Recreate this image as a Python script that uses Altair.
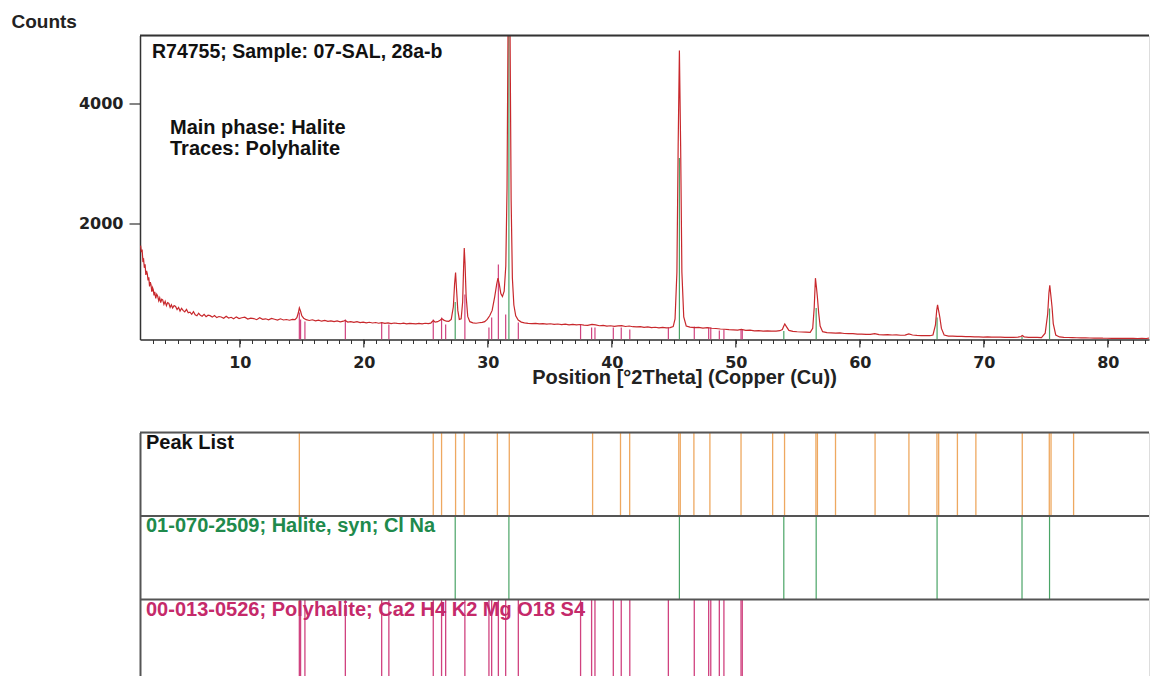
import altair as alt
import pandas as pd

# ---------------- data ----------------
# measured pattern, split into angular segments
theta_a = [2.00, 2.06, 2.12, 2.18, 2.24, 2.30, 2.36, 2.42, 2.48, 2.54, 2.60, 2.66, 2.72, 2.78, 2.84,
           2.90, 2.96, 3.02, 3.08, 3.14, 3.22, 3.30, 3.38, 3.46, 3.54, 3.62, 3.70, 3.78, 3.88, 3.98,
           4.08, 4.18, 4.28, 4.38, 4.48, 4.58, 4.70, 4.82, 4.94, 5.06, 5.18, 5.30, 5.42, 5.56, 5.70,
           5.84, 5.98, 6.12, 6.26, 6.40, 6.54, 6.68, 6.82, 6.96, 7.12, 7.28, 7.44, 7.60, 7.78, 7.96,
           8.14, 8.32, 8.50, 8.70, 8.90, 9.10, 9.30, 9.50, 9.72, 9.94, 10.16, 10.40, 10.64, 10.88,
           11.12, 11.36, 11.60, 11.84, 12.08, 12.32, 12.56, 12.80, 13.04, 13.28, 13.52, 13.76, 14.00,
           14.24]
counts_a = [1640, 1530, 1575, 1390, 1410, 1270, 1330, 1150, 1220, 1170, 1060, 1110, 960, 1030, 985,
            870, 940, 905, 810, 870, 760, 830, 795, 720, 770, 690, 745, 735, 660, 710,
            640, 690, 675, 610, 655, 600, 640, 625, 575, 610, 550, 595, 560, 535, 575,
            520, 530, 495, 540, 485, 470, 512, 478, 462, 495, 455, 480, 472, 448, 475,
            440, 458, 450, 428, 462, 432, 445, 420, 452, 425, 438, 446, 415, 432,
            424, 405, 438, 410, 420, 402, 425, 412, 398, 420, 400, 408, 396,
            410]

theta_b = [14.45, 14.60, 14.72, 14.80, 14.90, 15.00, 15.15, 15.35, 15.60, 15.85, 16.10, 16.35,
           16.60, 16.85, 17.10, 17.35, 17.60, 17.85, 18.10, 18.35, 18.50, 18.70, 18.95, 19.20,
           19.45, 19.70, 19.95, 20.20, 20.45, 20.70, 20.95, 21.20, 21.45, 21.70, 21.95, 22.20,
           22.45, 22.70, 22.95, 23.20, 23.45, 23.70, 23.95, 24.20, 24.45, 24.70, 24.95, 25.20]
counts_b = [405, 440, 520, 600, 545, 470, 430, 405, 392, 404, 386, 398,
            380, 392, 378, 386, 372, 384, 370, 380, 392, 366, 374, 360,
            371, 356, 365, 352, 362, 350, 358, 346, 357, 344, 352, 340,
            350, 343, 338, 348, 336, 345, 340, 334, 344, 336, 346, 340]

theta_c = [25.40, 25.50, 25.62, 25.75, 25.95, 26.15, 26.30, 26.45, 26.65, 26.85, 27.05, 27.22,
           27.32, 27.40, 27.48, 27.58, 27.70, 27.85, 27.97, 28.05, 28.10, 28.16, 28.25, 28.38,
           28.55, 28.80, 29.05, 29.30, 29.55, 29.75, 29.95, 30.15, 30.35, 30.55, 30.72, 30.82,
           30.92, 31.05, 31.18, 31.32, 31.45, 31.55, 31.64, 31.78, 31.88, 31.98, 32.10, 32.25,
           32.45, 32.70, 32.95]
counts_c = [348, 370, 392, 365, 372, 395, 420, 398, 380, 378, 410, 620,
            1000, 1190, 900, 560, 410, 420, 700, 1300, 1600, 1350, 800, 460,
            372, 352, 346, 354, 360, 372, 410, 470, 560, 780, 1000, 1098,
            1000, 840, 790, 880, 1300, 2600, 5600, 5600, 2400, 1100, 650, 470,
            400, 365, 352]

theta_d = [33.25, 33.55, 33.85, 34.15, 34.45, 34.75, 35.05, 35.35, 35.65, 35.95, 36.25, 36.55,
           36.85, 37.15, 37.45, 37.75, 38.05, 38.40, 38.70, 39.00, 39.30, 39.60, 39.90, 40.20,
           40.50, 40.80, 41.10, 41.40, 41.70, 42.00, 42.30, 42.60, 42.90, 43.20, 43.50, 43.80,
           44.10, 44.40, 44.70, 44.95, 45.10, 45.25, 45.35, 45.45, 45.55, 45.65, 45.80, 46.00]
counts_d = [344, 338, 345, 334, 340, 330, 337, 328, 333, 324, 330, 320,
            327, 318, 325, 316, 312, 328, 318, 304, 310, 298, 304, 294,
            302, 305, 292, 300, 288, 284, 290, 278, 284, 274, 279, 270,
            276, 268, 274, 290, 420, 1200, 3300, 4890, 3300, 1200, 450, 300]

theta_e = [46.30, 46.65, 47.00, 47.35, 47.70, 48.05, 48.40, 48.75, 49.10, 49.45,
           49.80, 50.15, 50.45, 50.80, 51.15, 51.50, 51.85, 52.20, 52.55, 52.90,
           53.25, 53.55, 53.75, 53.87, 53.95, 54.08, 54.28, 54.60, 54.95, 55.30,
           55.65, 56.00, 56.20, 56.32, 56.42, 56.50, 56.58, 56.68, 56.80, 57.00,
           57.35, 57.70, 58.05, 58.40, 58.75, 59.10, 59.45, 59.80, 60.15, 60.50,
           60.85, 61.20, 61.55, 61.90, 62.25, 62.60, 62.95, 63.30, 63.65, 63.95,
           64.25, 64.60, 64.95, 65.30, 65.65, 65.90, 66.10, 66.20, 66.27, 66.35,
           66.45, 66.58, 66.80, 67.15, 67.50, 67.85, 68.20, 68.55, 68.90, 69.25,
           69.60, 69.95, 70.30, 70.65, 71.00, 71.35, 71.70, 72.05, 72.40, 72.75,
           73.00, 73.10, 73.25, 73.60, 73.95, 74.30, 74.65, 74.95, 75.15, 75.25,
           75.32, 75.40, 75.50, 75.60, 75.80, 76.10, 76.45, 76.80, 77.15, 77.50,
           77.85, 78.20, 78.55, 78.90, 79.25, 79.60, 79.95, 80.30, 80.65, 81.00,
           81.35, 81.70, 82.05, 82.40, 82.75, 83.10, 83.40, 83.75, 83.90, 83.98,
           84.06, 84.14, 84.20]
counts_e = [282, 272, 278, 266, 272, 262, 258, 250, 246, 240,
            236, 232, 242, 226, 230, 220, 224, 216, 220, 213,
            216, 222, 240, 300, 333, 290, 226, 210, 204, 200,
            198, 194, 260, 600, 1097, 950, 780, 520, 300, 205,
            190, 186, 182, 184, 175, 172, 174, 166, 164, 160,
            162, 172, 156, 152, 155, 150, 152, 146, 148, 168,
            150, 144, 140, 142, 138, 150, 320, 560, 652, 560,
            450, 260, 150, 132, 130, 126, 127, 122, 124, 120,
            118, 116, 120, 114, 113, 116, 110, 112, 110, 114,
            125, 142, 120, 112, 110, 112, 108, 180, 500, 850,
            978, 820, 620, 340, 150, 118, 112, 108, 106, 104,
            102, 103, 100, 99, 100, 97, 96, 95, 96, 94,
            95, 93, 94, 92, 93, 92, 100, 160, 420, 580,
            520, 470, 430]

# Halite (01-070-2509) reference lines: positions and stick heights in counts
halite_pos = [27.37, 31.70, 45.45, 53.87, 56.48, 66.23, 73.08, 75.30, 84.00]
halite_counts = [700, 5600, 3100, 215, 600, 440, 120, 590, 455]

# Polyhalite (00-013-0526) reference lines
poly_pos = [14.80, 14.90, 15.25, 18.51, 21.44, 22.02, 25.60, 26.27, 26.60, 28.15,
            30.09, 30.31, 30.85, 31.44, 32.46, 37.48, 38.37, 38.64, 40.12, 40.76,
            41.45, 44.56, 46.65, 47.81, 47.98, 48.67, 49.04, 50.42, 50.52]
poly_counts = [525, 408, 375, 408, 358, 325, 408, 442, 325, 825,
               275, 442, 1325, 492, 358, 325, 275, 275, 275, 275,
               242, 275, 292, 275, 275, 225, 242, 242, 242]

# Peak list positions
peak_pos = [14.80, 25.60, 26.27, 27.40, 28.10, 30.77, 31.73, 38.45, 40.70, 41.44,
            45.40, 45.52, 46.62, 47.91, 50.42, 52.97, 53.93, 56.46, 56.58, 58.04,
            61.23, 63.96, 66.22, 66.36, 67.87, 69.36, 73.10, 75.28, 75.42, 77.24, 84.09]

minor_ticks = [3, 4, 5, 6, 7, 8, 9, 10, 11, 12, 13, 14, 15, 16, 17, 18, 19, 20, 21, 22, 23,
               24, 25, 26, 27, 28, 29, 30, 31, 32, 33, 34, 35, 36, 37, 38, 39, 40, 41, 42, 43,
               44, 45, 46, 47, 48, 49, 50, 51, 52, 53, 54, 55, 56, 57, 58, 59, 60, 61, 62, 63,
               64, 65, 66, 67, 68, 69, 70, 71, 72, 73, 74, 75, 76, 77, 78, 79, 80, 81, 82, 83]
major_ticks = [10, 20, 30, 40, 50, 60, 70, 80]
y_ticks = [2000, 4000]

sample_label = "R74755; Sample: 07-SAL, 28a-b"
phase_label_1 = "Main phase: Halite"
phase_label_2 = "Traces: Polyhalite"
panel_labels = ["Peak List", "01-070-2509; Halite, syn; Cl Na",
                "00-013-0526; Polyhalite; Ca2 H4 K2 Mg O18 S4"]

# ---------------- styling ----------------
W = 1009
H1 = 304
H2 = 244
PANEL = 83.5
PX_PER_DEG = 12.4
X0 = 1.95
FONT = "Liberation Sans"
TICKFONT = "DejaVu Sans"
RED = "#c8282c"
GREEN_LINE = "#4aa466"
MAG_LINE = "#d0427f"
ORANGE = "#eea860"
GREEN_TXT = "#208a4c"
MAG_TXT = "#c52a6a"

xs = alt.Scale(domain=[X0, X0 + W / PX_PER_DEG], nice=False, zero=False)
ys = alt.Scale(domain=[75, 5140], nice=False, zero=False)

curve_df = pd.DataFrame({"two_theta": theta_a + theta_b + theta_c + theta_d + theta_e,
                         "counts": counts_a + counts_b + counts_c + counts_d + counts_e})
hal_df = pd.DataFrame({"two_theta": halite_pos, "counts": halite_counts,
                       "base": [75] * len(halite_pos)})
poly_df = pd.DataFrame({"two_theta": poly_pos, "counts": poly_counts,
                        "base": [75] * len(poly_pos)})
major_df = pd.DataFrame({"two_theta": major_ticks})
one_df = pd.DataFrame({"k": [0]})

x_axis = alt.Axis(
    values=minor_ticks,
    labelExpr="datum.value % 10 === 0 ? datum.label : ''",
    tickSize=4, tickColor="#333", tickWidth=1, domainColor="#333", domainWidth=1.5,
    labelFont=TICKFONT, labelFontWeight="bold", labelFontSize=16, labelColor="#222",
    labelPadding=11, labelOverlap=False, grid=False,
    title="Position [°2Theta] (Copper (Cu))", titleFont=FONT, titleFontWeight="bold",
    titleFontSize=20, titleColor="#222", titleX=544, titleY=44, titleAlign="center",
    titleBaseline="alphabetic",
)
y_axis = alt.Axis(
    values=y_ticks, format="d", tickSize=11, tickColor="#333", tickWidth=1.2,
    domainColor="#333", domainWidth=1.5,
    labelFont=TICKFONT, labelFontWeight="bold", labelFontSize=16, labelColor="#222",
    labelPadding=6, grid=False,
    title="Counts", titleFont=FONT, titleFontWeight="bold", titleFontSize=19,
    titleColor="#222", titleAngle=0, titleX=-129, titleY=-8, titleAlign="left",
    titleBaseline="alphabetic",
)

X = alt.X("two_theta:Q", scale=xs, axis=x_axis)
Y = alt.Y("counts:Q", scale=ys, axis=y_axis)

poly_sticks = alt.Chart(poly_df).mark_rule(color=MAG_LINE, strokeWidth=1.2, clip=True).encode(
    x=X, y=Y, y2="base:Q")
hal_sticks = alt.Chart(hal_df).mark_rule(color=GREEN_LINE, strokeWidth=1.2, clip=True).encode(
    x=X, y=Y, y2="base:Q")
curve = alt.Chart(curve_df).mark_line(color=RED, strokeWidth=1.2, clip=True).encode(x=X, y=Y)
major_tick_marks = alt.Chart(major_df).mark_rule(color="#333", strokeWidth=1.2).encode(
    x=X, y=alt.value(H1), y2=alt.value(H1 + 8))
top_border = alt.Chart(one_df).mark_rule(color="#333", strokeWidth=2).encode(
    x=alt.value(0), x2=alt.value(W), y=alt.value(0))
sample_txt = alt.Chart(one_df).mark_text(
    align="left", baseline="alphabetic", font=FONT, fontWeight="bold", fontSize=19.5,
    color="#111", text=sample_label
).encode(x=alt.value(12), y=alt.value(22))
phase_txt1 = alt.Chart(one_df).mark_text(
    align="left", baseline="alphabetic", font=FONT, fontWeight="bold", fontSize=20,
    color="#111", text=phase_label_1
).encode(x=alt.value(30), y=alt.value(98))
phase_txt2 = alt.Chart(one_df).mark_text(
    align="left", baseline="alphabetic", font=FONT, fontWeight="bold", fontSize=20,
    color="#111", text=phase_label_2
).encode(x=alt.value(30), y=alt.value(119.5))

top = alt.layer(poly_sticks, hal_sticks, curve, major_tick_marks, top_border,
                sample_txt, phase_txt1, phase_txt2).properties(width=W, height=H1)

# ---------------- lower reference panels ----------------
ps = alt.Scale(domain=[0, H2 / PANEL], reverse=True, nice=False, zero=False)
lower_axis = alt.Axis(labels=False, ticks=False, domain=True, domainColor="#555",
                      domainWidth=2, grid=False, title=None)
X2 = alt.X("two_theta:Q", scale=xs, axis=None)

peak_df = pd.DataFrame({"two_theta": peak_pos, "lo": [0] * len(peak_pos), "hi": [1] * len(peak_pos)})
hal_df2 = pd.DataFrame({"two_theta": halite_pos, "lo": [1] * len(halite_pos), "hi": [2] * len(halite_pos)})
poly_df2 = pd.DataFrame({"two_theta": poly_pos, "lo": [2] * len(poly_pos), "hi": [3] * len(poly_pos)})
lab_df = pd.DataFrame({"label": panel_labels, "lo": [0, 1, 2],
                       "col": ["#111", GREEN_TXT, MAG_TXT]})

LY = alt.Y("lo:Q", scale=ps, axis=lower_axis)

peak_rules = alt.Chart(peak_df).mark_rule(color=ORANGE, strokeWidth=1.3, clip=True).encode(
    x=X2, y=LY, y2="hi:Q")
hal_rules = alt.Chart(hal_df2).mark_rule(color=GREEN_LINE, strokeWidth=1.2, clip=True).encode(
    x=X2, y=LY, y2="hi:Q")
poly_rules = alt.Chart(poly_df2).mark_rule(color=MAG_LINE, strokeWidth=1.3, clip=True).encode(
    x=X2, y=LY, y2="hi:Q")
seps = alt.Chart(lab_df).mark_rule(color="#555", strokeWidth=2).encode(
    y=LY, x=alt.value(0), x2=alt.value(W))
labels = alt.Chart(lab_df).mark_text(
    align="left", baseline="top", font=FONT, fontWeight="bold", fontSize=20, dx=6, dy=0
).encode(x=alt.value(0), y=LY, text="label:N", color=alt.Color("col:N", scale=None))

bottom = alt.layer(peak_rules, hal_rules, poly_rules, seps, labels).properties(width=W, height=H2)

chart = alt.vconcat(top, bottom, spacing=93, bounds="flush").properties(
    padding={"left": 2, "top": 3.5, "right": 0, "bottom": 0},
).configure_view(stroke=None).configure(background="white")

chart.save("out.html", embed_options={"renderer": "svg", "actions": False})
